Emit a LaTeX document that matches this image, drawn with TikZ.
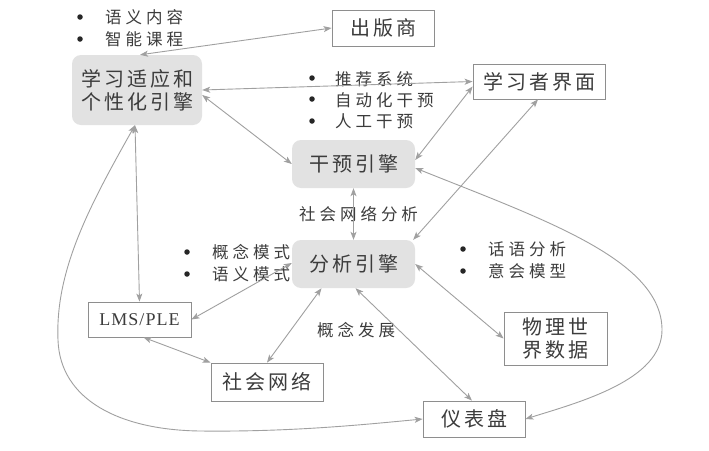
\documentclass[tikz,border=0pt]{standalone}
\usepackage{fontspec}
\setmainfont{Liberation Serif}
\newfontfamily\cjk{Noto Sans CJK SC}
\usetikzlibrary{arrows.meta,calc}
\definecolor{boxfill}{HTML}{E2E2E2}
\definecolor{bordc}{HTML}{8E8E8E}
\definecolor{txt}{HTML}{3C3C3C}
\definecolor{linec}{HTML}{A0A0A0}
\definecolor{dotc}{HTML}{262626}
\newcommand\bigcjk{\cjk\fontsize{20}{23}\selectfont\addfontfeature{LetterSpace=15}}
\newcommand\smallcjk{\cjk\fontsize{16.5}{20}\selectfont\addfontfeature{LetterSpace=24}}
\tikzset{
  engine/.style={fill=boxfill, rounded corners=9pt, inner sep=0pt, text=txt, font=\bigcjk},
  plainbox/.style={draw=bordc, line width=0.8pt, fill=white, inner sep=0pt, text=txt, font=\bigcjk},
  oneline/.style={text height=17.6pt, text depth=2.4pt},
  conn/.style={draw=linec, line width=0.9pt, {Stealth[length=8pt,width=6pt,inset=2pt]}-{Stealth[length=8pt,width=6pt,inset=2pt]}},
  note/.style={inner sep=0pt, anchor=west, text=txt, font=\smallcjk, text height=14.5pt, text depth=2pt},
  dot/.style={circle, fill=dotc, inner sep=0pt, minimum size=5.5pt},
}
\begin{document}
\begin{tikzpicture}[x=1pt,y=-1pt]
\useasboundingbox[fill=white] (0,0) rectangle (709,450);

% nodes
\node[engine, minimum width=130pt, minimum height=70pt, align=center] (learn) at (137,90) {学习适应和\\个性化引擎};
\node[plainbox, oneline, minimum width=102pt, minimum height=36pt] (pub) at (383,28) {出版商};
\node[plainbox, oneline, minimum width=132pt, minimum height=35pt] (ui) at (539,81.5) {学习者界面};
\node[engine, oneline, minimum width=123pt, minimum height=48pt] (interv) at (353.5,164) {干预引擎};
\node[engine, oneline, minimum width=123pt, minimum height=48pt] (anal) at (353.5,264) {分析引擎};
\node[plainbox, minimum width=103pt, minimum height=35pt, font=\fontsize{18}{20}\selectfont\addfontfeature{LetterSpace=6}] (lms) at (139.5,319.5) {LMS/PLE};
\node[plainbox, oneline, minimum width=112pt, minimum height=38pt] (soc) at (267,382) {社会网络};
\node[plainbox, minimum width=103pt, minimum height=53pt, align=center] (phys) at (555.5,338.5) {物理世\\界数据};
\node[plainbox, oneline, minimum width=102pt, minimum height=36pt] (dash) at (474,419) {仪表盘};

% notes
\node[dot] (d1) at (80,17) {};
\node[note] (t1) at (105,17) {语义内容};
\node[dot] (d2) at (80,39) {};
\node[note] (t2) at (105,39) {智能课程};
\node[dot] (d3) at (312,78) {};
\node[note] (t3) at (335,79) {推荐系统};
\node[dot] (d4) at (312,99) {};
\node[note] (t4) at (335,100) {自动化干预};
\node[dot] (d5) at (312,121) {};
\node[note] (t5) at (335,121) {人工干预};
\node[note] (t6) at (299,214) {社会网络分析};
\node[dot] (d7) at (187,252) {};
\node[note] (t7) at (212,252) {概念模式};
\node[dot] (d8) at (187,274) {};
\node[note] (t8) at (212,274) {语义模式};
\node[dot] (d9) at (463,249) {};
\node[note] (t9) at (488,249) {话语分析};
\node[dot] (d10) at (463,271) {};
\node[note] (t10) at (488,271) {意会模型};
\node[note] (t11) at (317,330) {概念发展};

% connectors
\draw[conn] ([xshift=3pt]learn.north) -- (pub.west);
\draw[conn] (ui.west) -- (learn.east);
\draw[conn] ([yshift=-5pt]learn.east) -- (interv.west);
\draw[conn] ([yshift=-5pt]ui.west) -- ([yshift=4pt]interv.east);
\draw[conn] ([xshift=-1pt]ui.south) -- ([xshift=-2pt]anal.north east);
\draw[conn] (interv.south) -- (anal.north);
\draw[conn] ([xshift=-2pt]learn.south) -- (lms.north);
\draw[conn] ([xshift=-2pt]learn.south) .. controls (90,205) and (55,270) .. (58,340)
   .. controls (60,400) and (120,430) .. (200,431)
   .. controls (290,432) and (360,425) .. (dash.west);
\draw[conn] ([yshift=1pt]anal.west) -- (lms.east);
\draw[conn] ([xshift=4pt]lms.south) -- (soc.north west);
\draw[conn] (soc.north) -- ([xshift=-32pt]anal.south);
\draw[conn] ([xshift=2pt]anal.south) -- ([xshift=-2pt]dash.north);
\draw[conn] (anal.east) -- (phys.west);
\draw[conn] ([yshift=-4pt]interv.east) .. controls (545,220) and (662,260) .. (662,330)
   .. controls (662,380) and (580,402) .. (dash.east);
\end{tikzpicture}
\end{document}
